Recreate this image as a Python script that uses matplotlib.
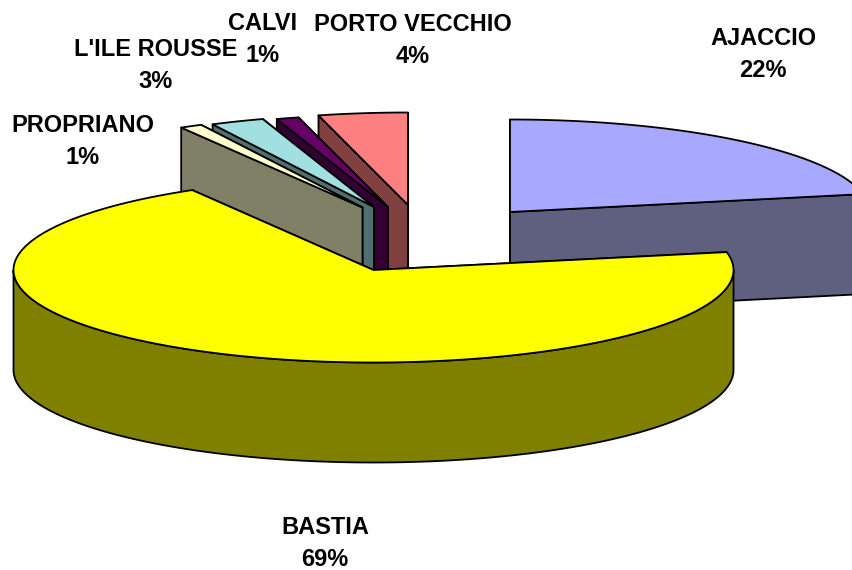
import numpy as np
import matplotlib
matplotlib.use('Agg')
import matplotlib.pyplot as plt
from matplotlib.patches import Polygon

names    = ['AJACCIO', 'BASTIA', 'PROPRIANO', "L'ILE ROUSSE", 'CALVI', 'PORTO VECCHIO']
values   = [21.9, 69.7, 1.0, 2.4, 1.0, 4.0]
percents = ['22%', '69%', '1%', '3%', '1%', '4%']

top_colors  = ['#A8A8FF', '#FFFF00', '#FFFFCC', '#A0E0E0', '#660066', '#FF8080']
side_colors = ['#5F5F80', '#808000', '#808066', '#507070', '#330033', '#804040']

# exploded apex of each slice, and label centres, in pixels
apex   = [(510, 212), (373.5, 270), (362.5, 207.5), (374, 207), (388, 207), (408, 205)]
labels = [(763, 54.5), (325, 544), (83, 142), (156, 65.5), (263, 40), (412.5, 40.5)]

RX, RY, DEPTH = 360, 92.5, 100
LW = 1.3

fig, ax = plt.subplots(figsize=(8.52, 5.70), dpi=100)
fig.patch.set_facecolor('white')
ax.set_position([0, 0, 1, 1])
ax.set_xlim(0, 852)
ax.set_ylim(570, 0)
ax.axis('off')


def rim(c, a0, a1):
    # points along the ellipse, angles clockwise from the top in degrees
    a = np.radians(np.linspace(a0, a1, max(int(abs(a1 - a0)) * 2, 2)))
    return np.column_stack([c[0] + RX * np.sin(a), c[1] - RY * np.cos(a)])


def patch(pts, color):
    ax.add_patch(Polygon(pts, closed=True, facecolor=color, edgecolor='black',
                         linewidth=LW, joinstyle='round'))


def draw_slice(i, a0, a1):
    c = np.array(apex[i], dtype=float)
    down = np.array([0, DEPTH])
    arc = rim(c, a0, a1)
    # radial walls, the one that shows goes on last
    walls = (arc[0], arc[-1]) if a0 < 180 else (arc[-1], arc[0])
    for p in walls:
        patch([c, p, p + down, c + down], side_colors[i])
    # outer wall, only the front half of the ellipse shows
    lo, hi = max(a0, 90), min(a1, 270)
    if hi > lo:
        front = rim(c, lo, hi)
        patch(np.vstack([front, (front + down)[::-1]]), side_colors[i])
    patch(np.vstack([c, arc]), top_colors[i])


edges = np.concatenate([[0], np.cumsum(values)]) / sum(values) * 360
# back to front: Ajaccio, then the small slices right to left, Bastia last
for i in [0, 5, 4, 3, 2, 1]:
    draw_slice(i, edges[i], edges[i + 1])

for name, pct, (x, y) in zip(names, percents, labels):
    ax.text(x, y, f'{name}\n{pct}', ha='center', va='center', ma='center',
            family='Liberation Sans', fontweight='bold', fontsize=17, linespacing=1.5,
            color='black')

plt.savefig('out.png', dpi=100, facecolor='white')
plt.close()
